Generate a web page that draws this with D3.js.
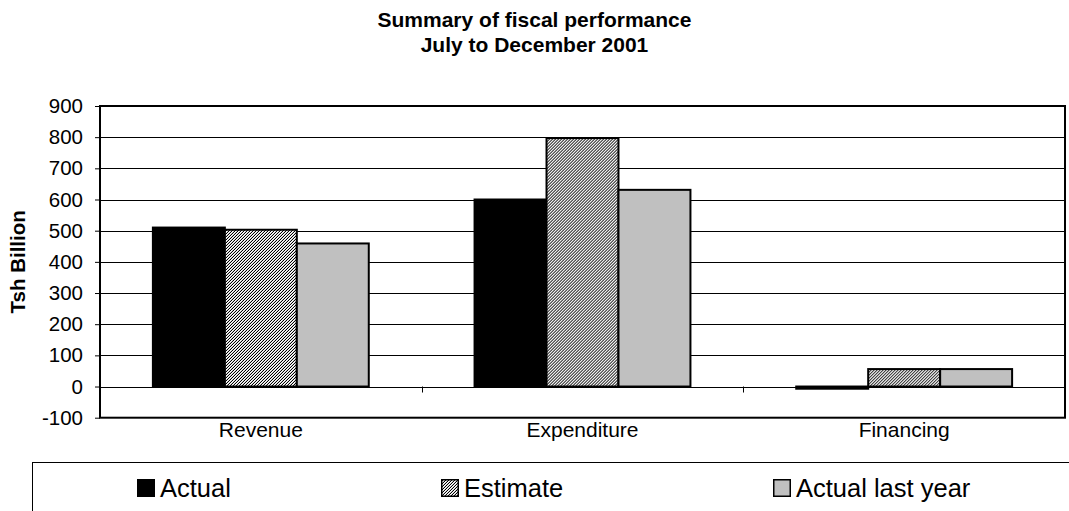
<!DOCTYPE html>
<html>
<head>
<meta charset="utf-8">
<script src="https://cdn.jsdelivr.net/npm/d3@7/dist/d3.min.js"></script>
<style>
  html, body { margin: 0; padding: 0; background: #fff; }
  svg { display: block; font-family: "Liberation Sans", Arial, sans-serif; }
</style>
</head>
<body>
<svg id="chart" width="1069" height="511"></svg>
<script>
// Fiscal summary, Tsh billion
const categories = ["Revenue", "Expenditure", "Financing"];
const seriesNames = ["Actual", "Estimate", "Actual last year"];
const actual = [510, 600, -7];
const estimate = [503, 797, 56];
const actualLastYear = [459, 631, 56];
const yTicks = [-100, 0, 100, 200, 300, 400, 500, 600, 700, 800, 900];
const titleLines = ["Summary of fiscal performance", "July to December 2001"];
const yTitle = "Tsh Billion";

const seriesValues = [actual, estimate, actualLastYear];

const svg = d3.select("#chart");
const W = 1069;

const plot = { left: 100, right: 1065, top: 106, bottom: 417.7 };

// fine upward-diagonal hatch for the estimate series
const defs = svg.append("defs");
const pat = defs.append("pattern")
  .attr("id", "hatch")
  .attr("patternUnits", "userSpaceOnUse")
  .attr("width", 3).attr("height", 3);
pat.append("rect").attr("width", 3).attr("height", 3).attr("fill", "#fff");
const hatchPx = [];
for (let px = 0; px < 3; px++) {
  for (let py = 0; py < 3; py++) {
    const k = (px + py) % 3;
    if (k === 2) hatchPx.push([px, py, "#000"]);
    if (k === 1) hatchPx.push([px, py, "#d0d0d0"]);
  }
}
pat.selectAll("rect.p")
  .data(hatchPx)
  .join("rect")
  .attr("class", "p")
  .attr("x", d => d[0]).attr("y", d => d[1])
  .attr("width", 1).attr("height", 1)
  .attr("fill", d => d[2])
  .attr("shape-rendering", "crispEdges");

const fills = ["#000", "url(#hatch)", "#c0c0c0"];

// scales
const y = d3.scaleLinear().domain([-100, 900]).range([plot.bottom, plot.top]);
const x0 = d3.scaleBand().domain(categories).range([plot.left, plot.right]).paddingInner(0).paddingOuter(0);
const x1 = d3.scaleBand().domain(seriesNames).range([0, x0.bandwidth()]).paddingInner(0).paddingOuter(0.735);

// title
svg.append("g").selectAll("text")
  .data(titleLines)
  .join("text")
  .attr("x", W / 2)
  .attr("y", (d, i) => 26.5 + i * 25)
  .attr("text-anchor", "middle")
  .attr("font-weight", "bold")
  .attr("font-size", 21)
  .attr("fill", "#000")
  .text(d => d);

// gridlines
svg.append("g").selectAll("line")
  .data(yTicks.filter(t => t !== -100 && t !== 900))
  .join("line")
  .attr("x1", plot.left).attr("x2", plot.right)
  .attr("y1", d => Math.round(y(d)) + 0.5).attr("y2", d => Math.round(y(d)) + 0.5)
  .attr("stroke", "#000").attr("stroke-width", 1);

// bars
const groups = svg.append("g").selectAll("g")
  .data(categories)
  .join("g")
  .attr("transform", d => `translate(${x0(d)},0)`);

groups.selectAll("rect")
  .data((c, ci) => seriesNames.map((s, si) => ({ s, si, v: seriesValues[si][ci] })))
  .join("rect")
  .attr("x", d => x1(d.s))
  .attr("width", x1.bandwidth())
  .attr("y", d => y(Math.max(0, d.v)))
  .attr("height", d => Math.abs(y(d.v) - y(0)))
  .attr("fill", d => fills[d.si])
  .attr("stroke", "#000")
  .attr("stroke-width", 2);

// y axis
const yAxis = d3.axisLeft(y).tickValues(yTicks).tickSize(5).tickPadding(12).tickFormat(d => String(d));
const ya = svg.append("g").attr("transform", `translate(${plot.left},0)`).call(yAxis);
ya.select(".domain").remove();
ya.selectAll(".tick line").attr("stroke", "#000");
ya.selectAll(".tick text")
  .attr("font-size", 20.5)
  .attr("font-family", "Liberation Sans, Arial, sans-serif")
  .attr("fill", "#000");

// category axis along zero, with ticks between categories
const boundaries = categories.map(c => x0(c)).concat([plot.right]);
svg.append("g").selectAll("line")
  .data(boundaries.slice(1, -1))
  .join("line")
  .attr("x1", d => Math.round(d) + 0.5).attr("x2", d => Math.round(d) + 0.5)
  .attr("y1", y(0)).attr("y2", y(0) + 6)
  .attr("stroke", "#000").attr("stroke-width", 1);

svg.append("g").selectAll("text")
  .data(categories)
  .join("text")
  .attr("x", d => x0(d) + x0.bandwidth() / 2)
  .attr("y", plot.bottom + 19)
  .attr("text-anchor", "middle")
  .attr("font-size", 21)
  .attr("fill", "#000")
  .text(d => d);

// plot frame
svg.append("rect")
  .attr("x", plot.left).attr("y", plot.top)
  .attr("width", plot.right - plot.left).attr("height", plot.bottom - plot.top)
  .attr("fill", "none").attr("stroke", "#000").attr("stroke-width", 2);

// y axis title
svg.append("text")
  .attr("transform", `translate(25,${(plot.top + plot.bottom) / 2}) rotate(-90)`)
  .attr("text-anchor", "middle")
  .attr("font-weight", "bold")
  .attr("font-size", 20.5)
  .attr("fill", "#000")
  .text(yTitle);

// legend
svg.append("rect")
  .attr("x", 32.5).attr("y", 462.5)
  .attr("width", 1100).attr("height", 100)
  .attr("fill", "none").attr("stroke", "#000").attr("stroke-width", 1);

const legendX = [137, 441, 773];
const lg = svg.append("g").selectAll("g")
  .data(seriesNames)
  .join("g")
  .attr("transform", (d, i) => `translate(${legendX[i]},479)`);
lg.append("rect")
  .attr("x", 0.75).attr("y", 0.75)
  .attr("width", 16.5).attr("height", 16.5)
  .attr("fill", (d, i) => fills[i])
  .attr("stroke", "#000").attr("stroke-width", 1.5);
lg.append("text")
  .attr("x", 23)
  .attr("y", 18)
  .attr("font-size", 25.5)
  .attr("fill", "#000")
  .text(d => d);
</script>
</body>
</html>
